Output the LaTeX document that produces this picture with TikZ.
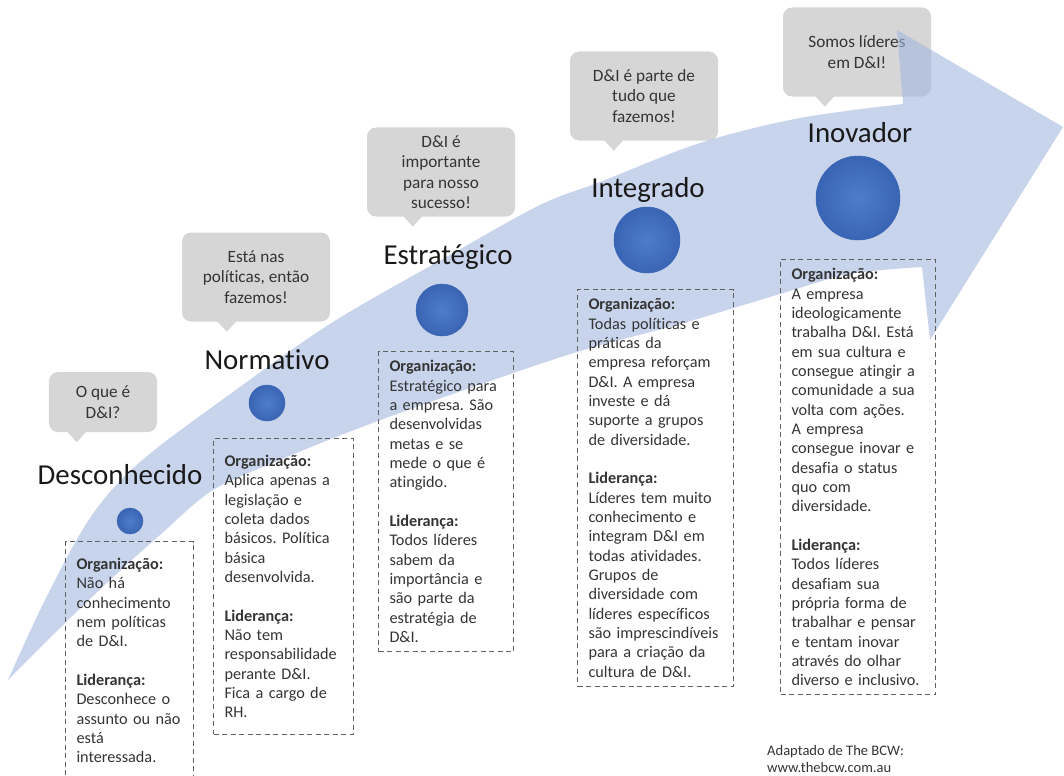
\documentclass[tikz,border=0pt]{standalone}
\usepackage{fontspec}
\setmainfont{Carlito}[Ligatures=NoCommon]
\usetikzlibrary{calc, positioning}
\frenchspacing

\definecolor{bandblue}{RGB}{163,183,222}
\definecolor{saygray}{RGB}{214,214,214}
\definecolor{dotblue}{RGB}{64,112,200}
\definecolor{dotedge}{RGB}{58,100,182}
\definecolor{inktext}{RGB}{52,52,52}

\begin{document}
\begin{tikzpicture}[
  x=1bp, y=-1bp,
  say/.style={
    fill=saygray,
    rounded corners=9bp,
    minimum width=148bp,
    minimum height=89bp,
    inner sep=0pt,
    align=center,
    text=inktext,
    font=\fontsize{17.3}{20.5}\selectfont
  },
  saytail/.style={fill=saygray},
  stage/.style={
    anchor=base,
    inner sep=0pt,
    text=black!90,
    font=\fontsize{29}{34}\selectfont
  },
  stagedot/.style={
    circle,
    inner sep=0pt,
    draw=dotedge,
    line width=0.5bp,
    inner color=dotblue!92!white,
    outer color=dotblue!90!black
  },
  card/.style={
    draw=black!62,
    dash pattern=on 5bp off 3.5bp,
    line width=1bp,
    anchor=north west,
    inner xsep=11bp,
    inner ysep=9bp,
    align=left,
    text=inktext,
    font=\fontsize{16.3}{19.4}\selectfont
  },
  band/.style={fill=bandblue, fill opacity=0.6},
  note/.style={
    anchor=north west,
    inner sep=0pt,
    align=left,
    text=inktext,
    font=\fontsize{14.6}{17.6}\selectfont
  }
]
\useasboundingbox (0,0) rectangle (1064,776);

% 对话气泡
\node[say, minimum width=108bp, minimum height=60bp] (descsay) at (103,402) {O que é\\D\&I?};
\node[say] (normsay) at (256,277) {Está nas\\políticas, então\\fazemos!};
\node[say] (estrsay) at (441,172) {D\&I é\\importante\\para nosso\\sucesso!};
\node[say] (integsay) at (644,96) {D\&I é parte de\\tudo que\\fazemos!};
\node[say] (inovsay) at (857,52) {Somos líderes\\em D\&I!};

\foreach \s/\dx in {descsay/28, normsay/45, estrsay/46, integsay/44, inovsay/42}{
  \fill[saytail] ($(\s.south west)+(\dx-10,-1)$) -- ($(\s.south west)+(\dx,10)$) -- ($(\s.south west)+(\dx+10,-1)$) -- cycle;
}

% 上升箭头
\fill[band] plot[smooth, tension=0.55] coordinates {(8,680) (45,600) (90,518) (140,462) (233,392) (333,322) (450,255) (540,205) (600,182) (700,143) (800,118) (903,104)}
  -- (897,30) -- (1063,127) -- (930,340) -- (922,267)
  -- plot[smooth, tension=0.55] coordinates {(922,267) (850,274) (780,294) (680,324) (577,352) (450,395) (354,430) (280,460) (213,490) (160,535) (110,580) (60,628) (8,680)}
  -- cycle;

% 阶段圆点
\node[stagedot, minimum size=26bp] (descdot) at (130,521) {};
\node[stagedot, minimum size=36bp] (normdot) at (267,403) {};
\node[stagedot, minimum size=52bp] (estrdot) at (442,310) {};
\node[stagedot, minimum size=66bp] (integdot) at (647,240) {};
\node[stagedot, minimum size=84bp] (inovdot) at (858,198) {};

% 阶段名称
\node[stage] (desc) at (120,484) {Desconhecido};
\node[stage] (norm) at (267,369) {Normativo};
\node[stage] (estr) at (448,264) {Estratégico};
\node[stage] (integ) at (648,197) {Integrado};
\node[stage] (inov) at (860,142) {Inovador};

% 说明框
\node[card, inner ysep=16.5bp, text width=106bp] (descbox) at (65,541) {%
\textbf{Organização:}\\
Não há\\
conhecimento\\
nem políticas\\
de D\&I.\\[\baselineskip]
\textbf{Liderança:}\\
Desconhece o\\
assunto ou não\\
está\\
interessada.};

\node[card, inner ysep=16.5bp, text width=118bp] (normbox) at (213,438) {%
\textbf{Organização:}\\
Aplica apenas a\\
legislação e\\
coleta dados\\
básicos. Política\\
básica\\
desenvolvida.\\[\baselineskip]
\textbf{Liderança:}\\
Não tem\\
responsabilidade\\
perante D\&I.\\
Fica a cargo de\\
RH.};

\node[card, text width=113bp] (estrbox) at (378,351) {%
\textbf{Organização:}\\
Estratégico para\\
a empresa. São\\
desenvolvidas\\
metas e se\\
mede o que é\\
atingido.\\[\baselineskip]
\textbf{Liderança:}\\
Todos líderes\\
sabem da\\
importância e\\
são parte da\\
estratégia de\\
D\&I.};

\node[card, text width=134bp] (integbox) at (577,289) {%
\textbf{Organização:}\\
Todas políticas e\\
práticas da\\
empresa reforçam\\
D\&I. A empresa\\
investe e dá\\
suporte a grupos\\
de diversidade.\\[\baselineskip]
\textbf{Liderança:}\\
Líderes tem muito\\
conhecimento e\\
integram D\&I em\\
todas atividades.\\
Grupos de\\
diversidade com\\
líderes específicos\\
são imprescindíveis\\
para a criação da\\
cultura de D\&I.};

\node[card, text width=133bp] (inovbox) at (780,259) {%
\textbf{Organização:}\\
A empresa\\
ideologicamente\\
trabalha D\&I. Está\\
em sua cultura e\\
consegue atingir a\\
comunidade a sua\\
volta com ações.\\
A empresa\\
consegue inovar e\\
desafia o status\\
quo com\\
diversidade.\\[\baselineskip]
\textbf{Liderança:}\\
Todos líderes\\
desafiam sua\\
própria forma de\\
trabalhar e pensar\\
e tentam inovar\\
através do olhar\\
diverso e inclusivo.};

% 来源
\node[note] (source) at (767,745) {Adaptado de The BCW:\\www.thebcw.com.au};

\end{tikzpicture}
\end{document}
